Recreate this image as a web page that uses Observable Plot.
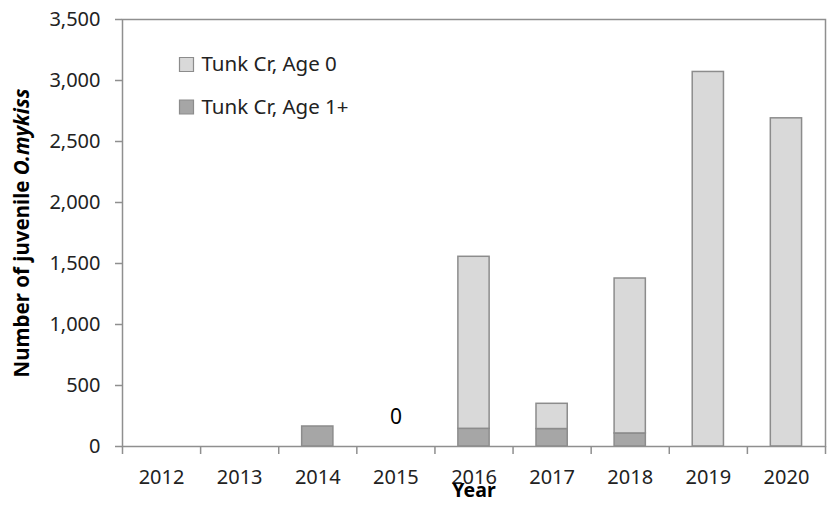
<!DOCTYPE html>
<html><head><meta charset="utf-8">
<script src="https://cdn.jsdelivr.net/npm/d3@7"></script>
<script src="https://cdn.jsdelivr.net/npm/@observablehq/plot@0.6"></script>
<style>body{margin:0;background:#fff;} #chart svg{display:block;}</style>
</head><body><div id="chart"></div>
<script>
// ---- data ----
const years = [2012, 2013, 2014, 2015, 2016, 2017, 2018, 2019, 2020];
const age0 = [0, 0, 0, 0, 1410, 207, 1270, 3070, 2690];
const age1 = [0, 0, 164, 0, 145, 143, 107, 0, 0];
const seriesNames = ["Tunk Cr, Age 0", "Tunk Cr, Age 1+"];
const seriesColors = ["#d9d9d9", "#a6a6a6"];
const yTicks = [0, 500, 1000, 1500, 2000, 2500, 3000, 3500];
const zeroNotes = [{year: 2015, value: 0, label: "0"}];
const xTitle = "Year";
const yTitleMain = "Number of juvenile ";
const yTitleItalic = "O.mykiss";

// ---- build rows (age 1+ at bottom, age 0 on top) ----
const rows = [];
years.forEach((yr, i) => {
  if (age1[i] > 0) rows.push({year: yr, series: seriesNames[1], y1: 0, y2: age1[i]});
  if (age0[i] > 0) rows.push({year: yr, series: seriesNames[0], y1: age1[i], y2: age1[i] + age0[i]});
});
const bounds = years.map(y => y - 0.5).concat([years[years.length - 1] + 0.5]);

const axisGray = "#8f8f8f";
const textCol = "#222";
const legendMarks = [];
seriesNames.forEach((name, i) => {
  const dy = 45 + i * 42.5;
  legendMarks.push(Plot.dot([name], {frameAnchor: "top-left", dx: 64, dy, symbol: "square", r: 7.9,
    fill: d => d, stroke: "#8c8c8c", strokeWidth: 1.2}));
  legendMarks.push(Plot.text([name], {frameAnchor: "top-left", dx: 79, dy, text: d => d,
    textAnchor: "start", lineAnchor: "middle", fill: textCol, fontSize: 20.5}));
});

const plot = Plot.plot({
  width: 828, height: 506,
  marginLeft: 122, marginRight: 3, marginTop: 19, marginBottom: 60,
  style: {fontFamily: "'Noto Sans', sans-serif", fontSize: "20px", color: textCol, background: "#fff"},
  x: {type: "linear", domain: [bounds[0], bounds[bounds.length - 1]]},
  y: {domain: [0, yTicks[yTicks.length - 1]]},
  color: {domain: seriesNames, range: seriesColors},
  marks: [
    Plot.rectY(rows, {x1: d => d.year - 0.2, x2: d => d.year + 0.2, y1: "y1", y2: "y2",
      fill: "series", stroke: "#8c8c8c", strokeWidth: 1.5}),
    Plot.frame({stroke: axisGray, strokeWidth: 1.5}),
    Plot.axisY({ticks: yTicks, tickSize: 7, tickPadding: 15, tickFormat: d3.format(","), label: null,
      stroke: axisGray, fill: textCol, strokeWidth: 1.5, fontSize: 20}),
    Plot.axisX({ticks: bounds, tickSize: 8, tickFormat: () => "", label: null, stroke: axisGray, strokeWidth: 1.5}),
    Plot.axisX({ticks: years, tickSize: 0, tickPadding: 23, tickFormat: d => String(d), label: null,
      fill: textCol, fontSize: 20}),
    Plot.text(zeroNotes, {x: "year", y: "value", text: "label", dy: -29, fill: "#000", fontSize: 21}),
    Plot.text([xTitle], {frameAnchor: "bottom", dy: 50, text: d => d, fontWeight: "bold", fontSize: 19.5, fill: "#000"}),
    Plot.text([yTitleMain + yTitleItalic], {frameAnchor: "left", dx: -100, rotate: -90, text: d => d,
      textAnchor: "middle", fontWeight: "bold", fontSize: 20.5, fill: "#000"}),
    ...legendMarks
  ]
});

// italicize the species name within the y title
plot.querySelectorAll("text").forEach(t => {
  if (t.textContent === yTitleMain + yTitleItalic) {
    t.textContent = "";
    const a = document.createElementNS("http://www.w3.org/2000/svg", "tspan");
    a.textContent = yTitleMain;
    const b = document.createElementNS("http://www.w3.org/2000/svg", "tspan");
    b.textContent = yTitleItalic;
    b.setAttribute("font-style", "italic");
    t.appendChild(a); t.appendChild(b);
  }
});
document.getElementById("chart").appendChild(plot);
</script>
</body></html>
